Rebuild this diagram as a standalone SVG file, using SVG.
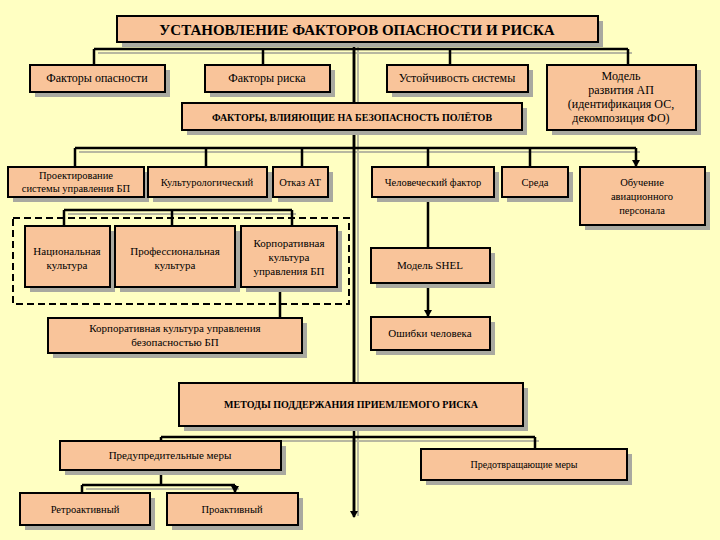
<svg xmlns="http://www.w3.org/2000/svg" width="720" height="540" viewBox="0 0 720 540">
<defs>
<style>
.b{fill:#F9C49A;stroke:#000;stroke-width:2}
.s{fill:#A9A9A0}
.t{font-family:"Liberation Serif",serif;font-size:11px;fill:#000;text-anchor:middle}
.c{stroke:#000;stroke-width:2.5;fill:none}
.cs{stroke:#B8B8A0;stroke-width:2;fill:none}
</style>
<marker id="a" markerWidth="8" markerHeight="8" refX="6" refY="4" orient="auto" markerUnits="userSpaceOnUse"><path d="M0,0 L7,4 L0,8z" fill="#000"/></marker>
</defs>
<rect width="720" height="540" fill="#FFFFC2"/>
<g id="connectors">
<g class="cs" transform="translate(4,4)">
<path d="M354,42V512 M94,49H628 M75,148H636 M64,210H292 M161,437H535 M82,485H235"/>
</g>
<path class="c" d="M94,49H628 M354,42V512"/>
<path class="c" marker-end="url(#a)" d="M94,49V64 M263,49V64 M450,49V64 M628,49V64 M354,49V102 M354,130V382 M354,437V517"/>
<path class="c" d="M75,148H636"/>
<path class="c" marker-end="url(#a)" d="M75,148V166 M206,148V166 M302,148V166 M428,148V166 M530,148V166 M636,148V166"/>
<path class="c" d="M64,210H292"/>
<path class="c" marker-end="url(#a)" d="M64,210V225 M172,210V225 M292,210V225 M280,287V317 M428,197V247 M428,283V316"/>
<path class="c" d="M161,437H535"/>
<path class="c" marker-end="url(#a)" d="M161,437V440 M535,437V448 M82,485V492 M235,485V492"/>
<path class="c" d="M161,470V485 M82,485H235"/>
<rect x="13" y="218" width="336" height="86" fill="none" stroke="#000" stroke-width="2" stroke-dasharray="7,4"/>
</g>
<g id="title"><rect class="s" x="122" y="21" width="481" height="26"/><rect class="b" x="117" y="16" width="481" height="26"/><text class="t" x="357" y="35" style="font-size:15px;font-weight:bold">УСТАНОВЛЕНИЕ ФАКТОРОВ ОПАСНОСТИ И РИСКА</text></g>
<g id="n1"><rect class="s" x="35" y="70" width="135" height="27"/><rect class="b" x="30" y="65" width="135" height="27"/><text class="t" x="97" y="82" style="font-size:12px">Факторы опасности</text></g>
<g id="n2"><rect class="s" x="210" y="70" width="125" height="27"/><rect class="b" x="205" y="65" width="125" height="27"/><text class="t" x="267" y="82" style="font-size:12px">Факторы риска</text></g>
<g id="n3"><rect class="s" x="392" y="70" width="141" height="27"/><rect class="b" x="387" y="65" width="141" height="27"/><text class="t" x="457" y="82" style="font-size:12px">Устойчивость системы</text></g>
<g id="n4"><rect class="s" x="552" y="70" width="149" height="65"/><rect class="b" x="547" y="65" width="149" height="65"/><text class="t" style="font-size:12px"><tspan x="621" y="80">Модель</tspan><tspan x="621" y="94">развития АП</tspan><tspan x="621" y="108">(идентификация ОС,</tspan><tspan x="621" y="122">декомпозиция ФО)</tspan></text></g>
<g id="n5"><rect class="s" x="187" y="108" width="340" height="27"/><rect class="b" x="182" y="103" width="340" height="27"/><text class="t" x="352" y="121" style="font-size:10px;font-weight:bold">ФАКТОРЫ, ВЛИЯЮЩИЕ НА БЕЗОПАСНОСТЬ ПОЛЁТОВ</text></g>
<g id="n6"><rect class="s" x="13" y="172" width="136" height="30"/><rect class="b" x="8" y="167" width="136" height="30"/><text class="t" style="font-size:10.5px"><tspan x="76" y="179">Проектирование</tspan><tspan x="76" y="192">системы управления  БП</tspan></text></g>
<g id="n7"><rect class="s" x="153" y="172" width="119" height="30"/><rect class="b" x="148" y="167" width="119" height="30"/><text class="t" x="207" y="186" style="font-size:10.5px">Культурологический</text></g>
<g id="n8"><rect class="s" x="278" y="172" width="55" height="30"/><rect class="b" x="273" y="167" width="55" height="30"/><text class="t" x="300" y="186" style="font-size:10.5px">Отказ АТ</text></g>
<g id="n9"><rect class="s" x="377" y="172" width="122" height="30"/><rect class="b" x="372" y="167" width="122" height="30"/><text class="t" x="433" y="186" style="font-size:10.5px">Человеческий фактор</text></g>
<g id="n10"><rect class="s" x="507" y="172" width="66" height="30"/><rect class="b" x="502" y="167" width="66" height="30"/><text class="t" x="535" y="186" style="font-size:10.5px">Среда</text></g>
<g id="n11"><rect class="s" x="585" y="172" width="125" height="58"/><rect class="b" x="580" y="167" width="125" height="58"/><text class="t" style="font-size:10.5px"><tspan x="642" y="186">Обучение</tspan><tspan x="642" y="200">авиационного</tspan><tspan x="642" y="214">персонала</tspan></text></g>
<g id="n12"><rect class="s" x="30" y="231" width="85" height="61"/><rect class="b" x="25" y="226" width="85" height="61"/><text class="t" style="font-size:11px"><tspan x="67" y="255">Национальная</tspan><tspan x="67" y="269">культура</tspan></text></g>
<g id="n13"><rect class="s" x="120" y="231" width="120" height="61"/><rect class="b" x="115" y="226" width="120" height="61"/><text class="t" style="font-size:11px"><tspan x="175" y="255">Профессиональная</tspan><tspan x="175" y="269">культура</tspan></text></g>
<g id="n14"><rect class="s" x="246" y="231" width="96" height="61"/><rect class="b" x="241" y="226" width="96" height="61"/><text class="t" style="font-size:11px"><tspan x="289" y="247">Корпоративная</tspan><tspan x="289" y="261">культура</tspan><tspan x="289" y="275">управления БП</tspan></text></g>
<g id="n15"><rect class="s" x="53" y="323" width="254" height="35"/><rect class="b" x="48" y="318" width="254" height="35"/><text class="t" style="font-size:11px"><tspan x="175" y="332">Корпоративная культура управления</tspan><tspan x="175" y="346">безопасностью БП</tspan></text></g>
<g id="n16"><rect class="s" x="376" y="253" width="119" height="35"/><rect class="b" x="371" y="248" width="119" height="35"/><text class="t" x="430" y="269" style="font-size:11px">Модель SHEL</text></g>
<g id="n17"><rect class="s" x="376" y="322" width="119" height="33"/><rect class="b" x="371" y="317" width="119" height="33"/><text class="t" x="430" y="337" style="font-size:11px">Ошибки человека</text></g>
<g id="n18"><rect class="s" x="184" y="388" width="344" height="43"/><rect class="b" x="179" y="383" width="344" height="43"/><text class="t" x="351" y="408" style="font-size:10px;font-weight:bold">МЕТОДЫ  ПОДДЕРЖАНИЯ  ПРИЕМЛЕМОГО  РИСКА</text></g>
<g id="n19"><rect class="s" x="65" y="446" width="221" height="29"/><rect class="b" x="60" y="441" width="221" height="29"/><text class="t" x="170" y="459" style="font-size:11px">Предупредительные меры</text></g>
<g id="n20"><rect class="s" x="426" y="454" width="206" height="31"/><rect class="b" x="421" y="449" width="206" height="31"/><text class="t" x="524" y="468" style="font-size:10px">Предотвращающие меры</text></g>
<g id="n21"><rect class="s" x="25" y="498" width="130" height="32"/><rect class="b" x="20" y="493" width="130" height="32"/><text class="t" x="85" y="513" style="font-size:10.5px">Ретроактивный</text></g>
<g id="n22"><rect class="s" x="172" y="498" width="131" height="32"/><rect class="b" x="167" y="493" width="131" height="32"/><text class="t" x="232" y="513" style="font-size:10.5px">Проактивный</text></g>
</svg>
